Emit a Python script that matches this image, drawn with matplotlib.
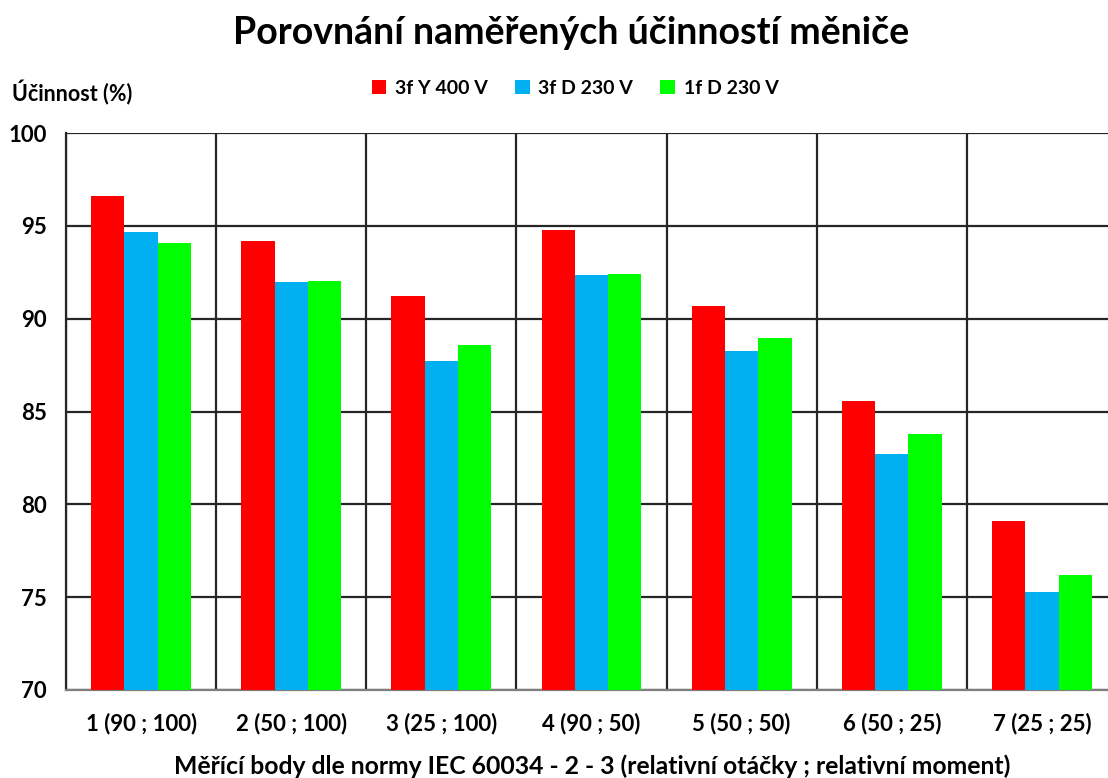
import matplotlib
matplotlib.use('Agg')
import numpy as np
import matplotlib.pyplot as plt

# %% data
categories = ['1 (90 ; 100)', '2 (50 ; 100)', '3 (25 ; 100)', '4 (90 ; 50)',
              '5 (50 ; 50)', '6 (50 ; 25)', '7 (25 ; 25)']
series_names = ['3f Y 400 V', '3f D 230 V', '1f D 230 V']
y400 = [96.6, 94.2, 91.2, 94.8, 90.7, 85.55, 79.1]
d230_3f = [94.65, 91.95, 87.7, 92.35, 88.25, 82.7, 75.3]
d230_1f = [94.1, 92.05, 88.6, 92.4, 88.95, 83.8, 76.2]
colors = ['#ff0000', '#00b0f0', '#00ff00']

plt.rcParams['font.family'] = ['Lato', 'DejaVu Sans']
plt.rcParams['font.weight'] = 'bold'

# %%
fig = plt.figure(figsize=(11.08, 7.78), dpi=100)
ax = fig.add_axes([66/1108, 88/778, 1051/1108, 557/778])

x = np.arange(len(categories))
w = 0.222
for i, (vals, c, name) in enumerate(zip([y400, d230_3f, d230_1f], colors, series_names)):
    ax.bar(x + (i - 1)*w, np.array(vals) - 70, w, bottom=70, color=c, label=name,
           zorder=3, edgecolor='none')

ax.set_xlim(-0.5, 6.5)
ax.set_ylim(70, 100)
ax.set_yticks(np.arange(70, 101, 5))
ax.set_xticks(x)
ax.set_xticklabels(categories, fontsize=16, fontweight='bold')
ax.set_xticks(np.arange(-0.5, 7, 1), minor=True)
ax.tick_params(axis='x', which='both', length=0, pad=16)
ax.tick_params(axis='y', length=0, labelsize=16, pad=14)
for t in ax.get_yticklabels():
    t.set_fontweight('bold')

ax.grid(axis='y', which='major', color='#262626', lw=1.6, zorder=1)
ax.grid(axis='x', which='minor', color='#262626', lw=1.6, zorder=1)
for s in ['top', 'right']:
    ax.spines[s].set_visible(False)
ax.spines['left'].set_color('#262626')
ax.spines['left'].set_linewidth(1.6)
ax.spines['bottom'].set_color('#7f7f7f')
ax.spines['bottom'].set_linewidth(1.6)

ax.set_xlabel('Měřící body dle normy IEC 60034 - 2 - 3 (relativní otáčky ; relativní moment)',
              fontsize=17.8, fontweight='bold')
ax.xaxis.set_label_coords(526/1051, -0.115)

fig.text(12/1108, 1 - 93/778, 'Účinnost (%)', fontsize=15.5, fontweight='bold', va='center')
fig.text(571/1108, 1 - 33/778, 'Porovnání naměřených účinností měniče', fontsize=27,
         fontweight='bold', ha='center', va='center')

leg = fig.legend(loc='center', bbox_to_anchor=(575/1108, 1 - 88/778), ncol=3, frameon=False,
                 handlelength=0.75, handleheight=0.75, handletextpad=0.45,
                 columnspacing=1.4, prop={'weight': 'bold', 'size': 14})

fig.savefig('out.png', dpi=100)
